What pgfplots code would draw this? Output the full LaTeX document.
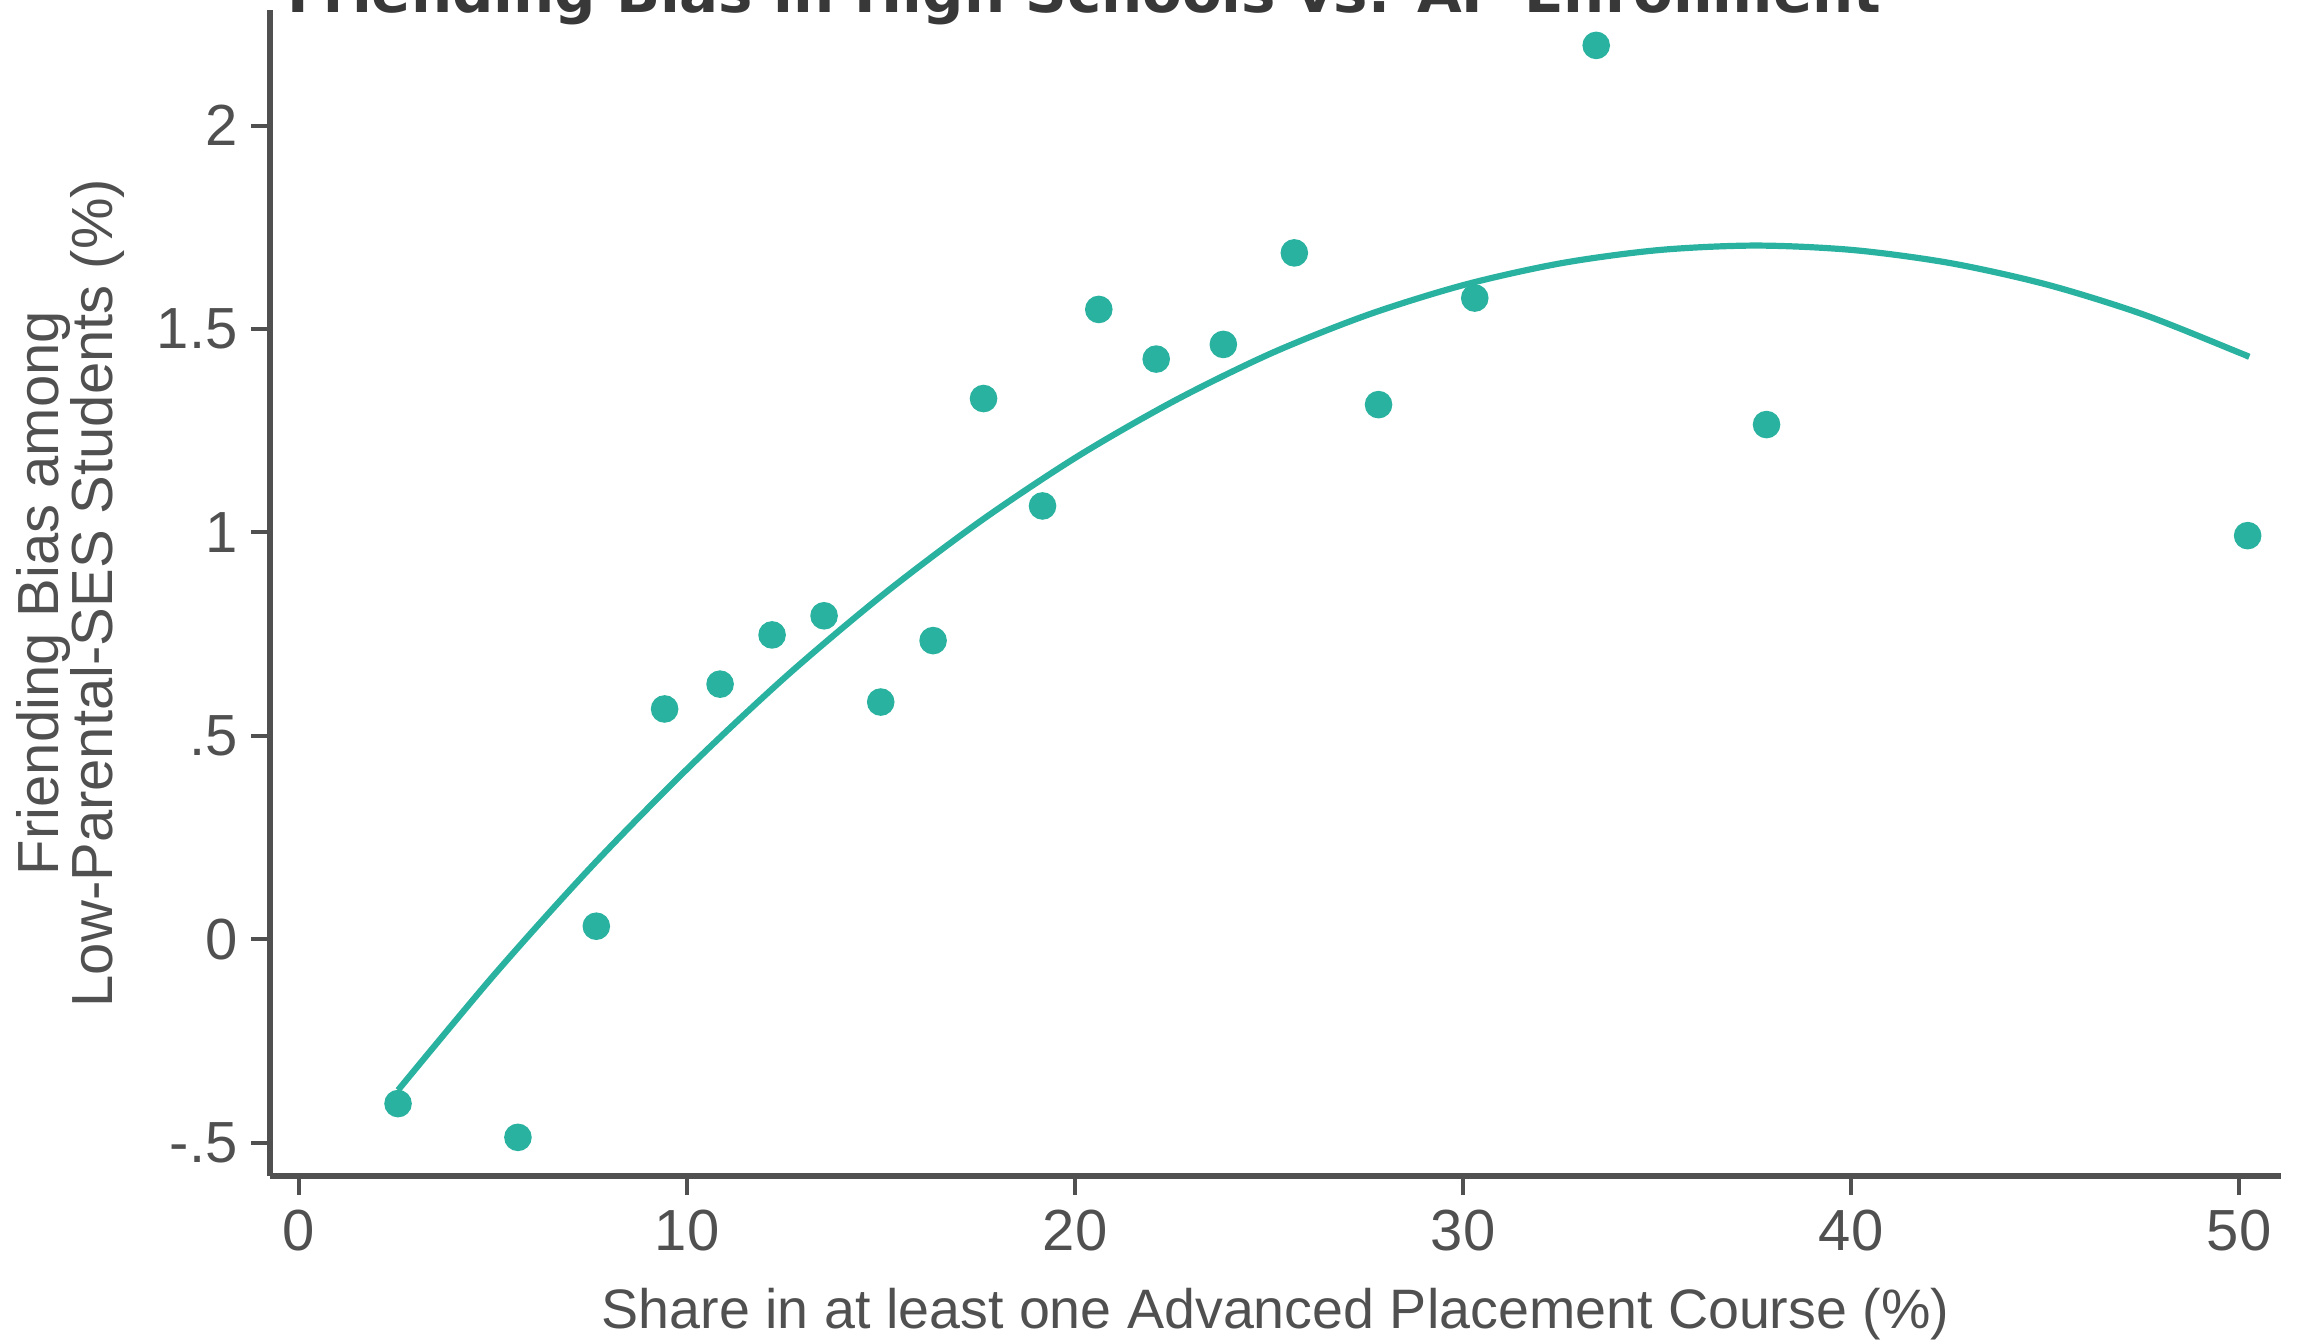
\documentclass[border=0pt]{standalone}
\usepackage{pgfplots}
\pgfplotsset{compat=1.18}
\usepackage{fontspec}
\setmainfont{Liberation Sans}
\newfontfamily\titlefont{DejaVu Sans}
\definecolor{dotc}{RGB}{42,178,160}
\definecolor{axc}{RGB}{80,80,80}
\definecolor{labc}{RGB}{80,80,80}
\definecolor{titc}{RGB}{56,56,56}
\begin{document}
\begin{tikzpicture}
\begin{axis}[
  scale only axis, width=502.75pt, height=291.5pt,
  at={(0,0)}, anchor=south west,
  xmin=-0.75, xmax=51.08, ymin=-0.582, ymax=2.284,
  axis x line*=bottom, axis y line*=left,
  axis line style={line width=1.3pt, color=axc, -},
  tick align=outside, major tick length=4.75pt,
  tick style={line width=1pt, color=axc},
  xtick={0,10,20,30,40,50},
  ytick={-0.5,0,0.5,1,1.5,2},
  yticklabels={-.5,0,.5,1,1.5,2},
  tick label style={font=\fontsize{14.5}{14.5}\selectfont, text=labc},
  /pgf/number format/assume math mode=true,
  xticklabel style={inner sep=0pt, yshift=-3.5pt},
  yticklabel style={inner sep=0pt, xshift=-3.2pt},
  clip=false,
]
\addplot[color=dotc, line width=1.55pt, smooth, no markers] coordinates {
(2.55,-0.371) (5.05,-0.085) (7.55,0.180) (10.05,0.423) (12.55,0.646)
(15.05,0.847) (17.55,1.027) (20.05,1.186) (22.55,1.323) (25.05,1.440)
(27.55,1.535) (30.05,1.609) (32.55,1.662) (35.05,1.694) (37.55,1.705)
(40.05,1.694) (42.55,1.662) (45.05,1.609) (47.55,1.535) (50.05,1.440)
(50.19,1.434)
};
\addplot[only marks, mark=*, mark size=3.25pt, color=dotc, mark options={draw=dotc, fill=dotc}] coordinates {
(2.55,-0.404) (5.64,-0.487) (7.66,0.032) (9.42,0.566) (10.85,0.627)
(12.19,0.748) (13.53,0.795) (14.99,0.583) (16.34,0.734) (17.64,1.329)
(19.16,1.065) (20.61,1.548) (22.09,1.426) (23.82,1.462) (25.65,1.687)
(27.82,1.314) (30.30,1.576) (33.43,2.197) (37.82,1.265) (50.22,0.992)
};
\end{axis}
% title (partly cut off by the page edge, as in the reference)
\node[anchor=base west, inner sep=0pt, text=titc, font=\titlefont\bfseries\fontsize{14.45}{14.45}\selectfont] at (4.25pt,290.8pt) {Friending Bias in High Schools vs. AP Enrollment};
% x label
\node[anchor=base, inner sep=0pt, text=labc, font=\fontsize{13.9}{13.9}\selectfont] at (251.4pt,-38pt) {Share in at least one Advanced Placement Course (\%)};
% y label, two lines
\node[anchor=base, inner sep=0pt, rotate=90, text=labc, font=\fontsize{14.5}{14.5}\selectfont] at (-53pt,145.75pt) {Friending Bias among};
\node[anchor=base, inner sep=0pt, rotate=90, text=labc, font=\fontsize{14.5}{14.5}\selectfont] at (-39.25pt,145.75pt) {Low-Parental-SES Students (\%)};
\pgfresetboundingbox
\useasboundingbox (-67.5pt,-41.25pt) rectangle (507pt,294pt);
\end{tikzpicture}
\end{document}
